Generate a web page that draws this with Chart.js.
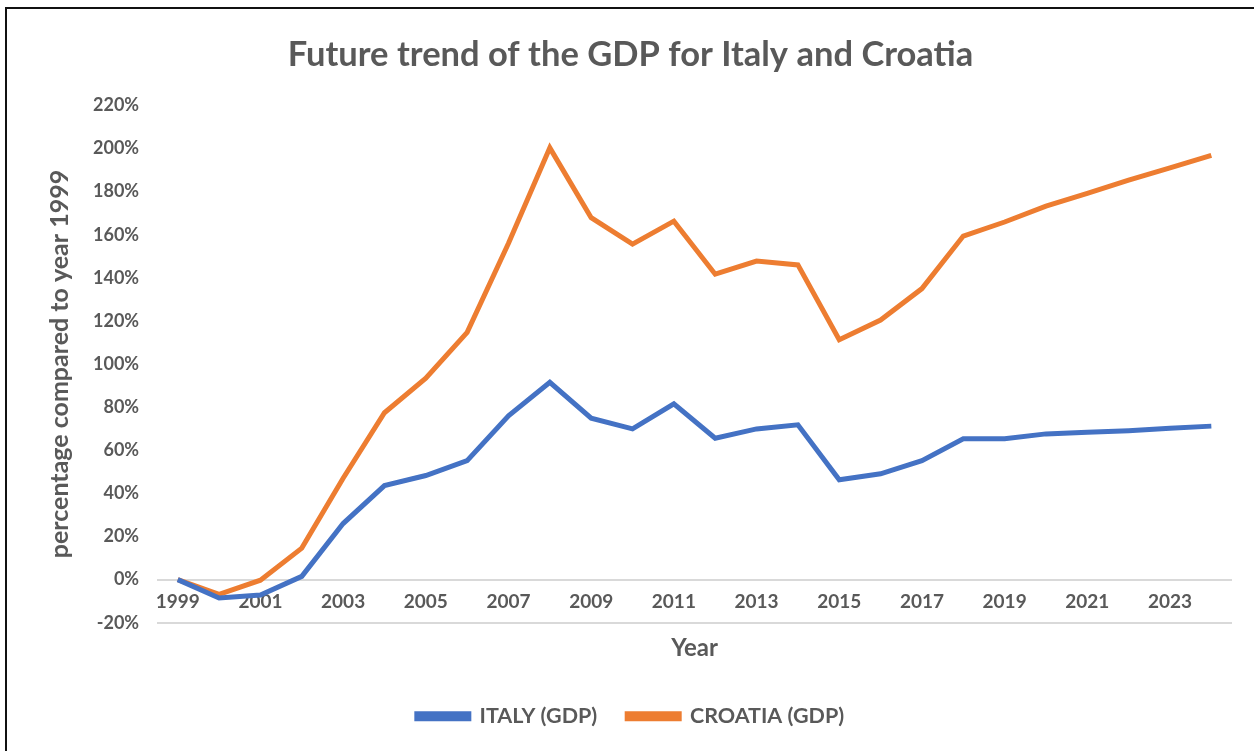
<!DOCTYPE html>
<html>
<head>
<meta charset="utf-8">
<script src="https://cdn.jsdelivr.net/npm/chart.js@4.4.1/dist/chart.umd.min.js"></script>
<style>
  html, body { margin: 0; padding: 0; background: #ffffff; }
  #frame {
    position: absolute;
    left: 5px; top: 7px;
    width: 1249px; height: 744px;
    border-left: 2px solid #111;
    border-top: 2px solid #111;
    box-sizing: border-box;
  }
  #wrap { position: absolute; left: 0; top: 0; width: 1247px; height: 742px; }
</style>
</head>
<body>
<div id="frame"><div id="wrap"><canvas id="chart"></canvas></div></div>
<script>
// Years on the category axis
const years = ['1999','2000','2001','2002','2003','2004','2005','2006','2007','2008',
  '2009','2010','2011','2012','2013','2014','2015','2016','2017','2018',
  '2019','2020','2021','2022','2023','2024'];

// GDP change relative to 1999, in percent
const italyGdp = [0, -8.5, -7.2, 1.5, 26, 43.6, 48.3, 55.2, 76, 91.5,
  74.9, 69.9, 81.5, 65.6, 69.9, 71.8, 46.3, 49.1, 55.2, 65.3,
  65.3, 67.6, 68.4, 69.1, 70.2, 71.2];
const croatiaGdp = [0, -6.8, -0.3, 14.6, 47, 77.4, 93.4, 114.7, 156, 200.3,
  167.9, 155.6, 166.3, 141.7, 147.8, 146, 111.3, 120.4, 135, 159.4,
  165.9, 173.3, 179.2, 185.3, 191, 196.8];

// Value axis range
const yMin = -20, yMax = 220, yStep = 20;

const textColor = '#595959';
const gridColor = '#d9d9d9';
const fontFamily = 'Lato, "Open Sans", sans-serif';

new Chart(document.getElementById('chart'), {
  type: 'line',
  data: {
    labels: years,
    datasets: [
      {
        label: 'ITALY (GDP)',
        data: italyGdp,
        borderColor: '#4472C4',
        backgroundColor: '#4472C4',
        borderWidth: 5,
        pointRadius: 0,
        tension: 0,
        xAxisID: 'x'
      },
      {
        label: 'CROATIA (GDP)',
        data: croatiaGdp,
        borderColor: '#ED7D31',
        backgroundColor: '#ED7D31',
        borderWidth: 5,
        pointRadius: 0,
        tension: 0,
        xAxisID: 'x'
      }
    ]
  },
  options: {
    responsive: true,
    maintainAspectRatio: false,
    animation: false,
    layout: { padding: { left: 22, right: 22, top: 10, bottom: 14 } },
    plugins: {
      title: {
        display: true,
        text: 'Future trend of the GDP for Italy and Croatia',
        color: textColor,
        font: { family: fontFamily, size: 34.5, weight: 'bold' },
        padding: { top: 15, bottom: 30 }
      },
      legend: {
        position: 'bottom',
        labels: {
          color: textColor,
          font: { family: fontFamily, size: 21.5, weight: 'bold' },
          boxWidth: 52,
          boxHeight: 5,
          padding: 30
        }
      },
      tooltip: { enabled: false }
    },
    scales: {
      x: {
        type: 'category',
        offset: true,
        position: { y: 0 },
        border: { display: false },
        grid: { display: false },
        ticks: {
          color: textColor,
          font: { family: fontFamily, size: 19, weight: 'bold' },
          autoSkip: false,
          maxRotation: 0,
          padding: 3,
          callback: function (value, index) {
            return index % 2 === 0 ? this.getLabelForValue(value) : '';
          }
        }
      },
      xTitle: {
        type: 'category',
        position: 'bottom',
        offset: true,
        border: { display: false },
        grid: { display: false },
        ticks: { display: false },
        title: {
          display: true,
          text: 'Year',
          color: textColor,
          font: { family: fontFamily, size: 24, weight: 'bold' },
          padding: { top: 3, bottom: 13 }
        }
      },
      y: {
        min: yMin,
        max: yMax,
        border: { display: false },
        grid: {
          drawTicks: false,
          lineWidth: 2,
          color: (ctx) => (ctx.tick && (ctx.tick.value === 0 || ctx.tick.value === yMin)) ? gridColor : 'rgba(0,0,0,0)'
        },
        ticks: {
          stepSize: yStep,
          color: textColor,
          font: { family: fontFamily, size: 18, weight: 'bold' },
          padding: 18,
          callback: (v) => v + '%'
        },
        title: {
          display: true,
          text: 'percentage compared to year 1999',
          color: textColor,
          font: { family: fontFamily, size: 25, weight: 'bold' },
          padding: { top: 16, bottom: 0 }
        }
      }
    }
  }
});
</script>
</body>
</html>
